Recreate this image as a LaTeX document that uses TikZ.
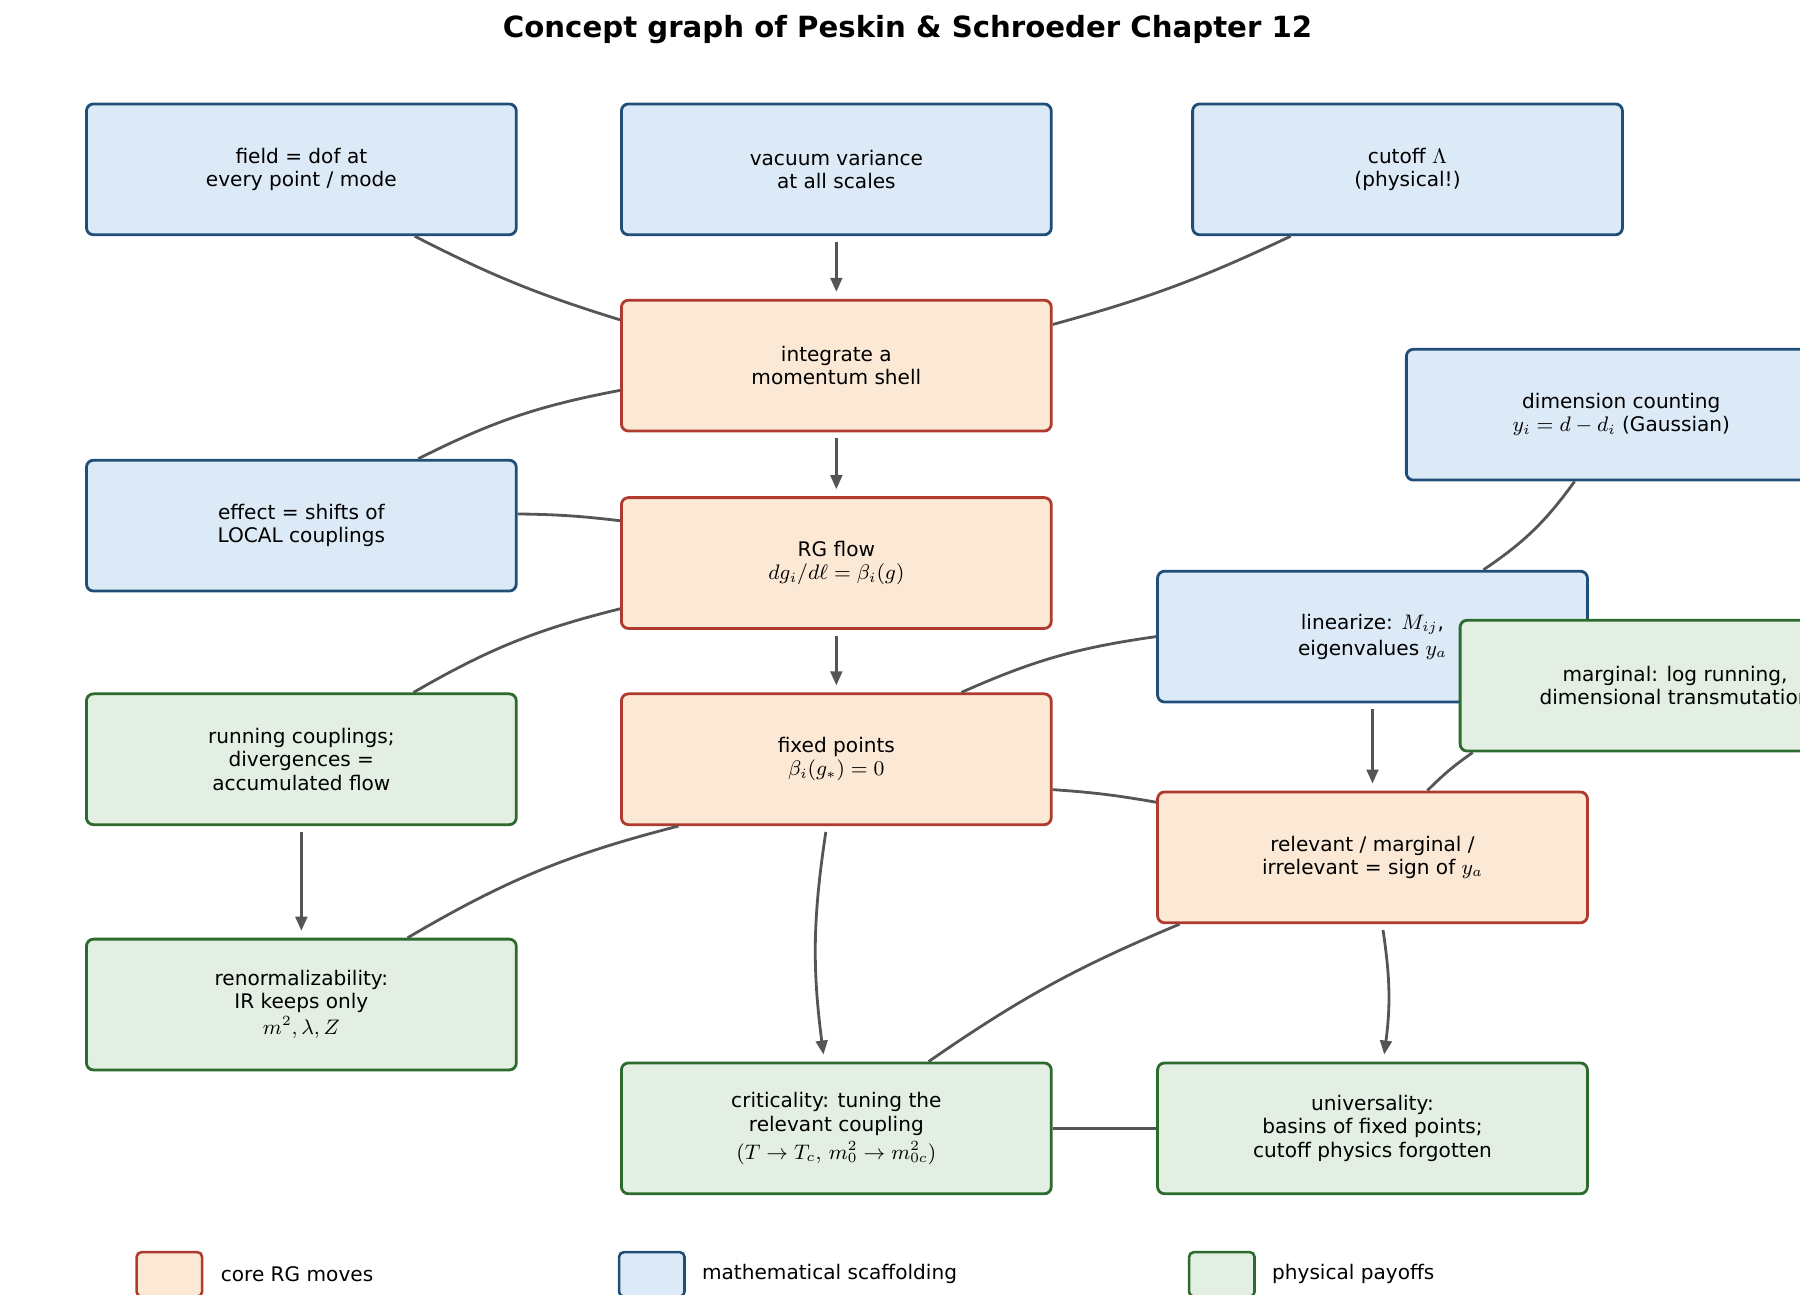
\documentclass[tikz,border=0pt]{standalone}
\usepackage{fontspec}
\setmainfont{DejaVu Sans}
\usetikzlibrary{calc,arrows.meta}
\definecolor{bE}{HTML}{1F4E79}\definecolor{bF}{HTML}{DCE9F6}
\definecolor{rE}{HTML}{B03A2E}\definecolor{rF}{HTML}{FBE8D5}
\definecolor{gE}{HTML}{2D6A2D}\definecolor{gF}{HTML}{E3EFE3}
\definecolor{ln}{HTML}{555555}
\begin{document}
\begin{tikzpicture}[x=0.5pt,y=-0.5pt,
 box/.style={draw,line width=1.2pt,rounded corners=3pt,minimum width=184pt,minimum height=56pt,align=center,font=\fontsize{8.6}{10}\selectfont,inner sep=2pt},
 blue/.style={box,draw=bE,fill=bF},red/.style={box,draw=rE,fill=rF},green/.style={box,draw=gE,fill=gF},
 leg/.style={draw,line width=1.1pt,rounded corners=2pt,minimum width=28pt,minimum height=19pt,inner sep=0pt},
 lt/.style={anchor=west,font=\fontsize{8.6}{10}\selectfont},
 e/.style={draw=ln,line width=1.2pt},
 a/.style={e,-{Triangle[length=6pt,width=5pt]}}]
\useasboundingbox (0,0) rectangle (1541,1108);
\clip (0,0) rectangle (1541,1108);
\node[font=\bfseries\fontsize{12.5}{14}\selectfont] (title) at (777,25) {Concept graph of Peskin \& Schroeder Chapter 12};
\node[blue] (field) at (258,145) {field = dof at\\every point / mode};
\node[blue] (vac) at (716,145) {vacuum variance\\at all scales};
\node[blue] (cut) at (1205,145) {cutoff $\Lambda$\\(physical!)};
\node[red] (int) at (716,313) {integrate a\\momentum shell};
\node[blue] (dim) at (1388,355) {dimension counting\\$y_i=d-d_i$ (Gaussian)};
\node[blue] (eff) at (258,450) {effect = shifts of\\LOCAL couplings};
\node[red] (rg) at (716,482) {RG flow\\$dg_i/d\ell=\beta_i(g)$};
\node[blue] (lin) at (1175,545) {linearize: $M_{ij}$,\\[1pt]eigenvalues $y_a$};
\node[green] (mar) at (1434,587) {marginal: log running,\\dimensional transmutation};
\node[green] (run) at (258,650) {running couplings;\\divergences =\\accumulated flow};
\node[red] (fix) at (716,650) {fixed points\\$\beta_i(g_*)=0$};
\node[red] (rel) at (1175,734) {relevant / marginal /\\irrelevant = sign of $y_a$};
\node[green] (ren) at (258,860) {renormalizability:\\IR keeps only\\[1pt]$m^2,\lambda,Z$};
\node[green] (cri) at (716,966) {criticality: tuning the\\relevant coupling\\[2pt]$(T\to T_c,\,m_0^2\to m_{0c}^2)$};
\node[green] (uni) at (1175,966) {universality:\\basins of fixed points;\\cutoff physics forgotten};
% edges
\draw[e] ($(field.south)+(97,0)$) to[bend right=5] ($(int.north west)+(0,18)$);
\draw[e] ($(cut.south)+(-100,0)$) to[bend left=5] ($(int.north east)+(0,22)$);
\draw[a] ($(vac.south)+(0,5)$) -- ($(int.north)+(0,-6)$);
\draw[e] ($(int.south west)+(0,-36)$) to[bend right=8] ($(eff.north)+(100,0)$);
\draw[e] ($(eff.east)+(0,-10)$) to[bend left=3] ($(rg.north west)+(0,21)$);
\draw[a] ($(int.south)+(0,5)$) -- ($(rg.north)+(0,-6)$);
\draw[e] ($(rg.south west)+(0,-18)$) to[bend right=8] ($(run.north)+(96,0)$);
\draw[a] ($(rg.south)+(0,5)$) -- ($(fix.north)+(0,-6)$);
\draw[e] ($(dim.south)+(-40,0)$) to[bend left=10] ($(lin.north)+(95,0)$);
\draw[e] ($(lin.west)+(0,0)$) to[bend right=8] ($(fix.north)+(107,0)$);
\draw[a] ($(lin.south)+(0,5)$) -- ($(rel.north)+(0,-6)$);
\draw[e] ($(mar.south west)+(12,0)$) to[bend right=5] ($(rel.north)+(47,0)$);
\draw[e] ($(fix.east)+(0,26)$) to[bend left=3] ($(rel.north west)+(0,10)$);
\draw[e] ($(fix.south west)+(50,0)$) to[bend right=8] ($(ren.north)+(91,0)$);
\draw[a] ($(run.south)+(0,5)$) -- ($(ren.north)+(0,-6)$);
\draw[a] ($(fix.south)+(-9,5)$) to[bend right=8] ($(cri.north)+(-11,-6)$);
\draw[e] ($(rel.south west)+(20,0)$) to[bend right=6] ($(cri.north)+(79,0)$);
\draw[a] ($(rel.south)+(9,5)$) to[bend left=8] ($(uni.north)+(10,-6)$);
\draw[e] (cri) -- (uni);
% legend
\node[leg,draw=rE,fill=rF] (l1) at (145,1091) {};
\node[lt] (t1) at (182,1091) {core RG moves};
\node[leg,draw=bE,fill=bF] (l2) at (558,1091) {};
\node[lt] (t2) at (594,1091) {mathematical scaffolding};
\node[leg,draw=gE,fill=gF] (l3) at (1046,1091) {};
\node[lt] (t3) at (1082,1091) {physical payoffs};
\end{tikzpicture}
\end{document}
